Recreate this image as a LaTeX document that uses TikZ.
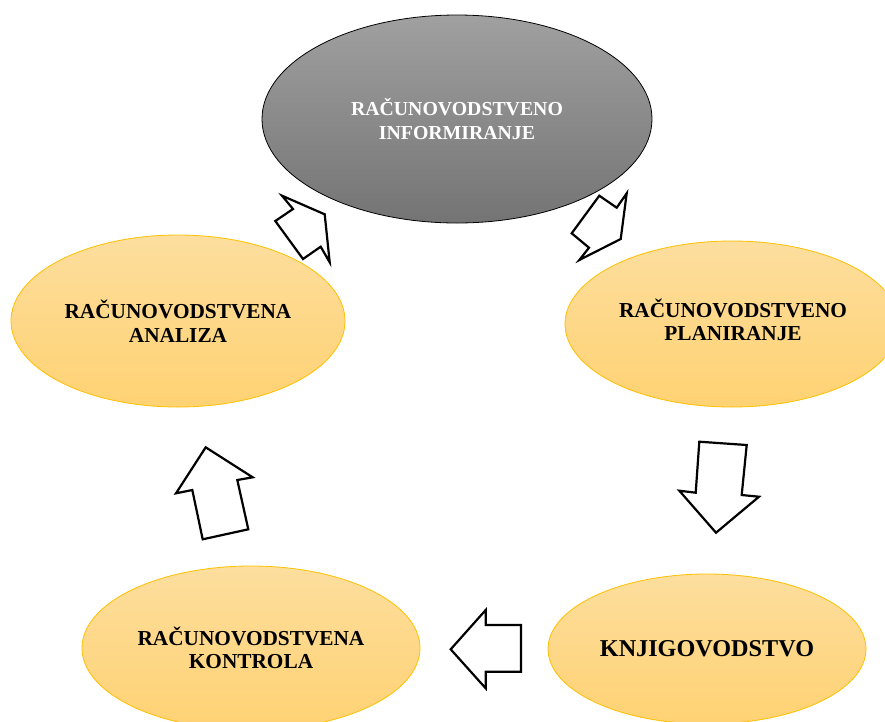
\documentclass[tikz,border=0pt]{standalone}
\usepackage{fontspec}
\setmainfont{Liberation Serif}
\usetikzlibrary{shapes.geometric}
\definecolor{ytop}{HTML}{FDDE9E}
\definecolor{ybot}{HTML}{FFD273}
\definecolor{yedge}{HTML}{FFC000}
\definecolor{gtop}{HTML}{A0A0A0}
\definecolor{gbot}{HTML}{747474}
\tikzset{
  yell/.style={ellipse, draw=yedge, line width=0.8pt, top color=ytop, bottom color=ybot,
    inner sep=0pt, align=center, font=\bfseries\fontsize{21.3}{23.5}\selectfont, text=black},
  grey/.style={ellipse, draw=black, line width=0.8pt, top color=gtop, bottom color=gbot,
    inner sep=0pt, align=center, font=\bfseries\fontsize{19.8}{23.5}\selectfont, text=white},
  lbl/.style={align=center, inner sep=0pt, font=\bfseries\fontsize{21.3}{23.5}\selectfont, text=black},
  blockarrow/.style={draw=black, line width=2.2pt, fill=white, line join=miter, miter limit=20}
}
\begin{document}
\begin{tikzpicture}[x=1pt,y=-1pt]
\useasboundingbox (0,0) rectangle (885,721);
\clip (0,0) rectangle (885,721);
\node[grey, minimum width=390pt, minimum height=208pt] (inf) at (457,119) {RAČUNOVODSTVENO\\INFORMIRANJE};
\node[yell, minimum width=334pt, minimum height=172pt] (ana) at (178,321) {RAČUNOVODSTVENA\\ANALIZA};
\node[yell, minimum width=334pt, minimum height=166pt] (pla) at (732,324) {};
\node[lbl] (platext) at (733,320) {RAČUNOVODSTVENO\\PLANIRANJE};
\node[yell, minimum width=318pt, minimum height=150pt, font=\bfseries\fontsize{24.2}{26}\selectfont] (knj) at (707,649) {KNJIGOVODSTVO};
\node[yell, minimum width=338pt, minimum height=164pt] (kon) at (251,648) {RAČUNOVODSTVENA\\KONTROLA};
% block arrows
\draw[blockarrow] (282,195.7) -- (293,209) -- (275.3,221) -- (303,259) -- (320.7,246.7) -- (329.7,262.3) -- (324.7,214.3) -- cycle;
\draw[blockarrow] (599.3,195.7) -- (616.7,207.7) -- (626.7,193.3) -- (620.7,239) -- (579.3,260) -- (589,247.7) -- (571.7,233.3) -- cycle;
\draw[blockarrow] (699.3,441.7) -- (746.7,445) -- (741.7,495) -- (759,496.7) -- (716,532.7) -- (679.3,490.7) -- (695.7,492.7) -- cycle;
\draw[blockarrow] (450.7,649.3) -- (485.7,610) -- (485.7,625) -- (521,625) -- (521,671.7) -- (485.7,671.7) -- (485.7,688.3) -- cycle;
\draw[blockarrow] (205.7,447.3) -- (252.7,477.3) -- (237.3,480) -- (248.3,529.3) -- (202.7,539.3) -- (192.3,490) -- (176,493.3) -- cycle;
\end{tikzpicture}
\end{document}
